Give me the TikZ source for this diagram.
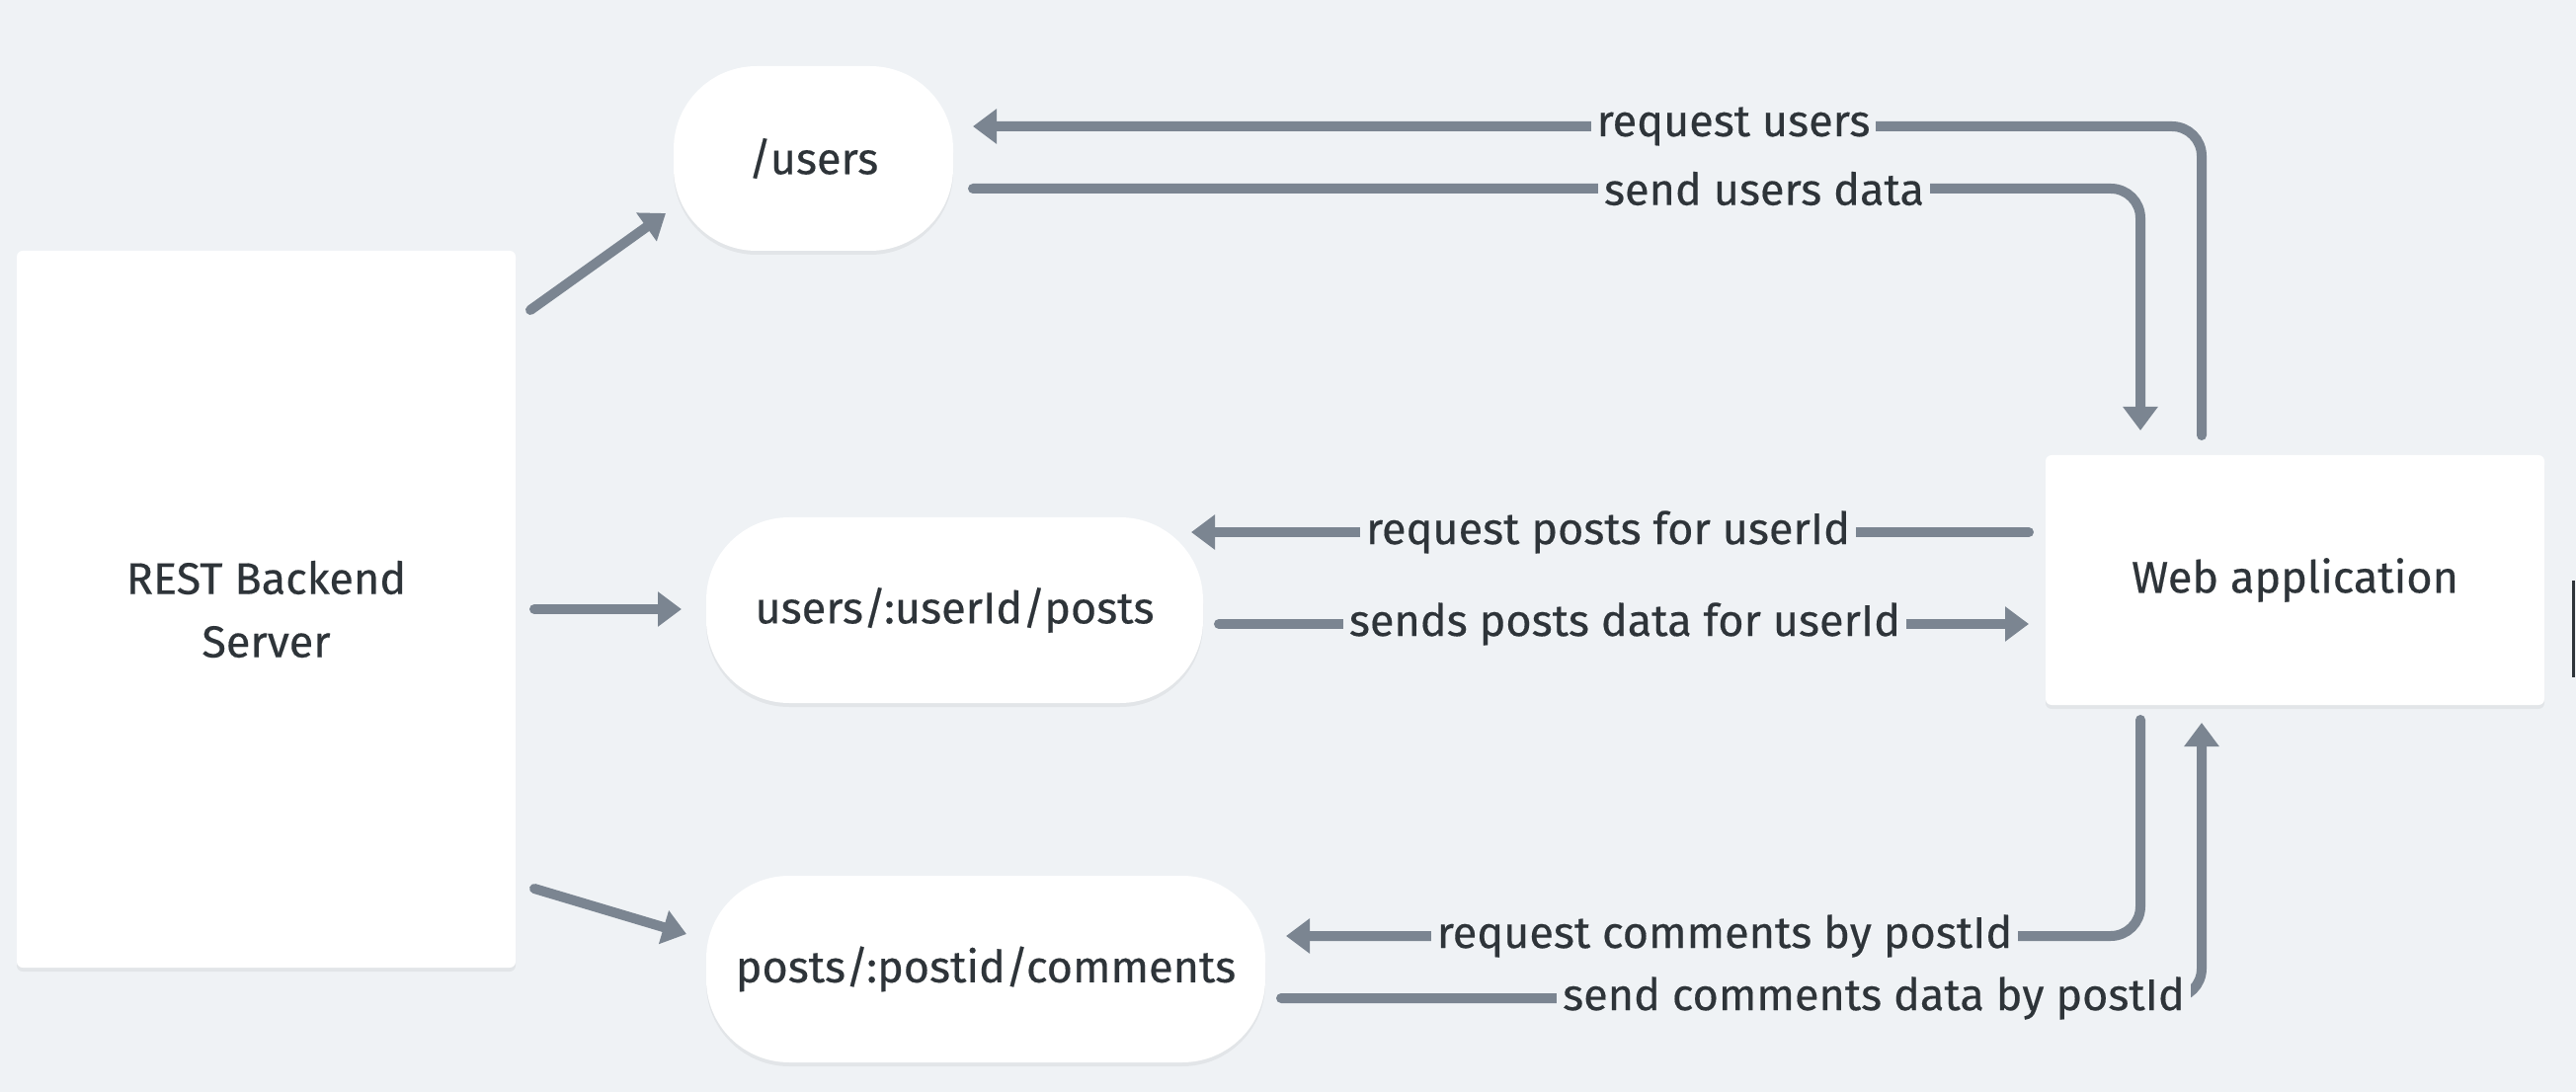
\documentclass[tikz,border=0pt]{standalone}
\usepackage{fontspec}
\setmainfont{Fira Sans}[FakeBold=0.35]
\usetikzlibrary{arrows.meta,shadows}
\definecolor{bg}{HTML}{EFF2F5}
\definecolor{ln}{HTML}{7B8591}
\definecolor{tx}{HTML}{2E3439}
\begin{document}
\begin{tikzpicture}[x=0.5pt,y=-0.5pt,
  box/.style={draw=none,fill=white,rounded corners=3pt,
    drop shadow={shadow xshift=0pt,shadow yshift=-2pt,opacity=0.05,fill=black},
    text=tx,font=\fontsize{22.5}{32}\selectfont,align=center,inner sep=0pt},
  pill/.style={box,rounded corners=42pt},
  conn/.style={draw=ln,line width=5pt,line cap=round,rounded corners=15pt},
  tip/.style={-{Triangle[length=12pt,width=17pt]}},
  lbl/.style={fill=bg,text=tx,font=\fontsize{22.5}{27}\selectfont,inner xsep=3pt,inner ysep=3pt}
]
\fill[bg] (0,0) rectangle (2608,1106);
\useasboundingbox (0,0) rectangle (2608,1106);

% nodes
\node[box,minimum width=252.5pt,minimum height=363pt] (rest) at (269.5,617) {REST Backend\\Server};
\node[pill,minimum width=141.5pt,minimum height=93.5pt] (users) at (823.5,160.5) {/users};
\node[pill,minimum width=251.5pt,minimum height=94pt] (posts) at (966.5,618) {users/:userId/posts};
\node[pill,minimum width=283pt,minimum height=94.5pt] (comments) at (998,981.5) {posts/:postid/comments};
\node[box,minimum width=252.5pt,minimum height=126.5pt] (web) at (2323.5,587.5) {Web application};

% REST -> endpoints
\coordinate (r1) at (537,314);  \coordinate (u1) at (674,216);
\coordinate (r2) at (541,617);  \coordinate (p1) at (690,617);
\coordinate (r3) at (541,900);  \coordinate (c1) at (695,946);
\draw[conn,tip] (r1) -- (u1);
\draw[conn,tip] (r2) -- (p1);
\draw[conn,tip] (r3) -- (c1);

% users
\coordinate (w1) at (2229,441); \coordinate (u2) at (985,128);
\draw[conn,tip] (w1) |- (u2);
\node[lbl] (l1) at (1755,128) {request users};
\coordinate (u3) at (985,191); \coordinate (w2) at (2167,436);
\draw[conn,tip] (u3) -| (w2);
\node[lbl] (l2) at (1786,191) {send users data};

% posts
\coordinate (w3) at (2054,539); \coordinate (p2) at (1206,539);
\draw[conn,tip] (w3) -- (p2);
\node[lbl] (l3) at (1628,539) {request posts for userId};
\coordinate (p3) at (1234,632); \coordinate (w4) at (2054,632);
\draw[conn,tip] (p3) -- (w4);
\node[lbl] (l4) at (1645,632) {sends posts data for userId};

% comments
\coordinate (w5) at (2167,729); \coordinate (c2) at (1302,948);
\draw[conn,tip] (w5) |- (c2);
\node[lbl] (l5) at (1746,948) {request comments by postId};
\coordinate (c3) at (1297,1011); \coordinate (w6) at (2229,732);
\draw[conn,tip] (c3) -| (w6);
\node[lbl] (l6) at (1897,1011) {send comments data by postId};

% edge artifact
\draw[tx,line width=1.5pt] (2605,588) -- (2605,686);
\end{tikzpicture}
\end{document}
